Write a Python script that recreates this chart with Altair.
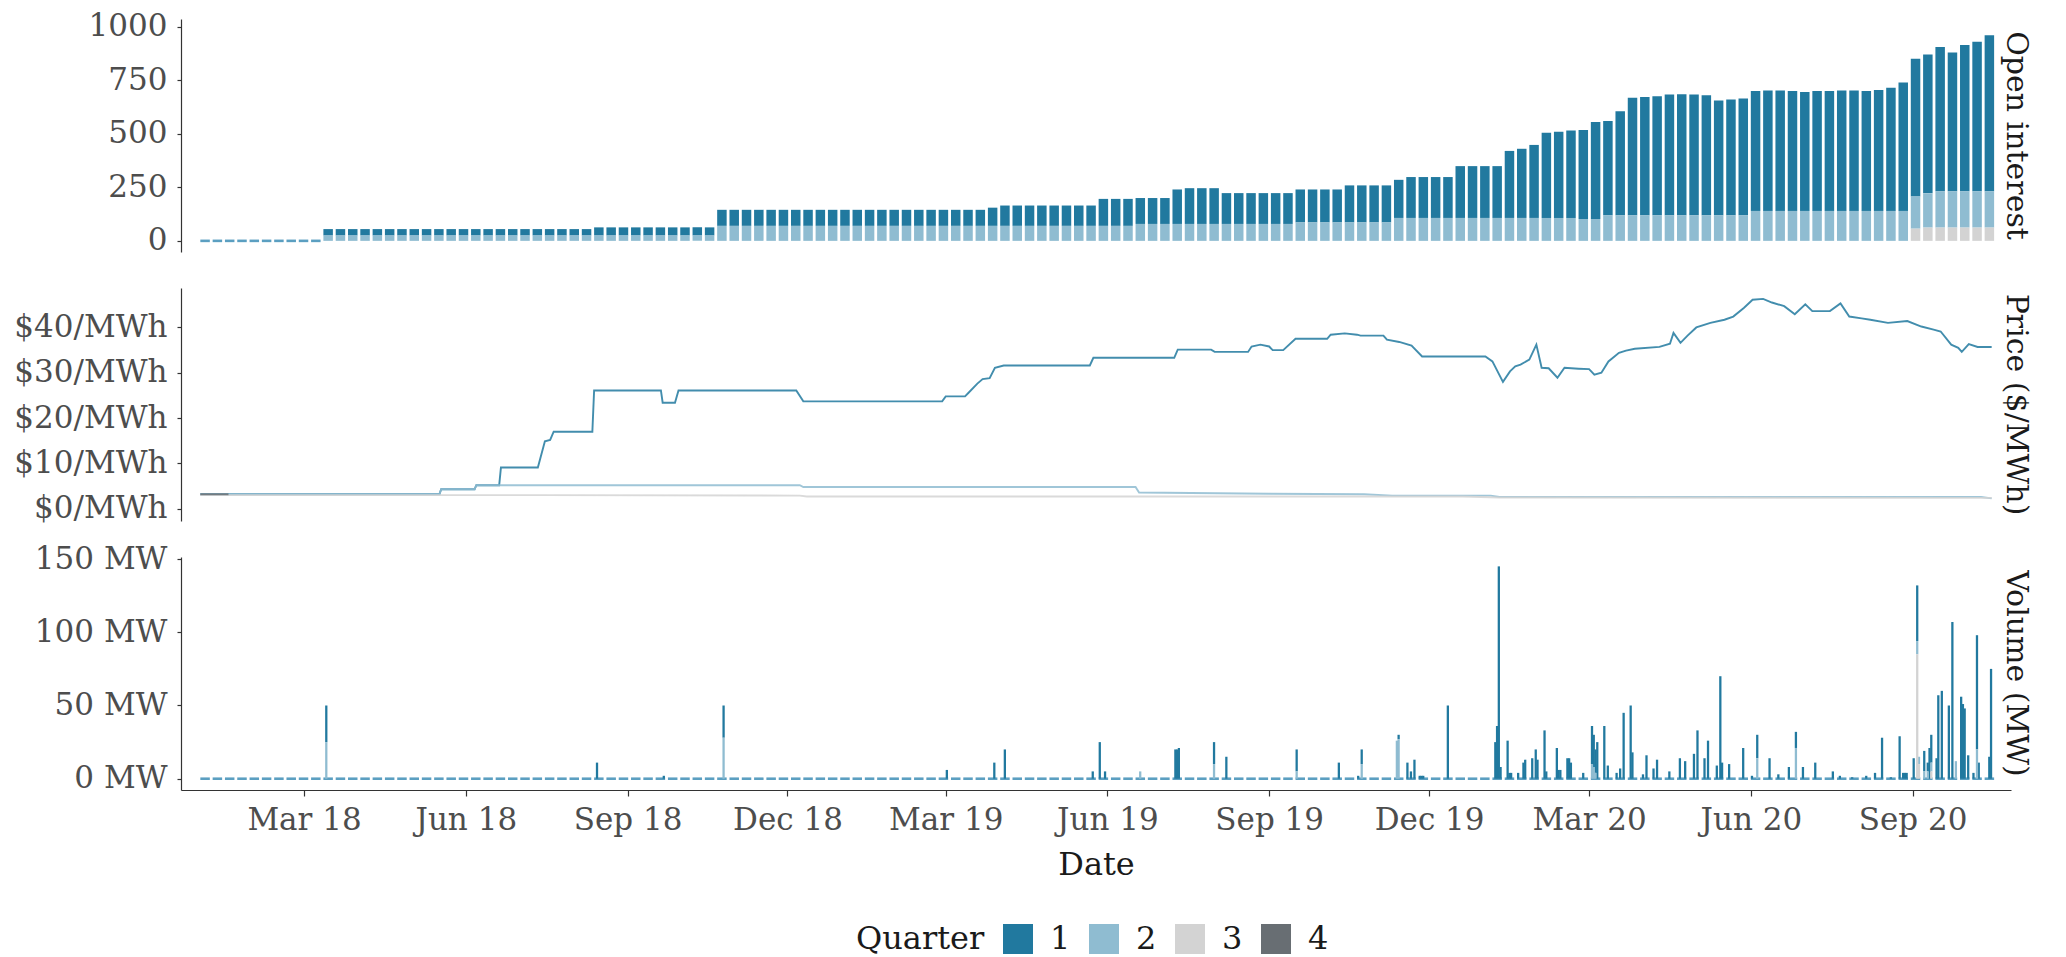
import altair as alt
import pandas as pd

FONT = "DejaVu Serif"
QUARTERS = ["1", "2", "3", "4"]
QUARTER_COLORS = ["#21799f", "#8fbcd1", "#d3d3d3", "#686e73"]
ZERO_COLOR = "#5b9fc1"
PANEL_W, PANEL_H = 1830, 233

panel_titles = ["Open interest", "Price ($/MWh)", "Volume (MW)"]

# ---------------- open interest, weekly (weeks starting Monday 2018-01-01) ----
first_week = "2018-01-01"
oi_q1 = ([0] * 10 + [30] * 22 + [38] * 10 + [75] * 22 + [85] + [95] * 8
         + [126] * 3 + [121] * 3 + [161] + [167] * 3 + [144] * 6 + [154] * 4
         + [173] * 4 + [178] + [191] * 4 + [242] * 4
         + [313, 323, 341, 398, 403, 408, 416, 453, 440, 485,
            548, 552, 555, 563, 565, 563, 560, 535, 540, 545,
            560, 562, 562, 560, 555, 560, 560, 562, 562, 560,
            565, 575, 600, 643, 648, 673, 648, 683, 698, 728])
oi_q2 = ([0] * 10 + [25] * 32 + [70] * 34 + [79] * 13 + [86] * 8 + [107] * 15
         + [102] * 2 + [120] * 12 + [140] * 13 + [150, 160, 170, 170, 170, 170, 170])
oi_q3 = [0] * 139 + [57, 62, 62, 62, 62, 62, 62]

# ---------------- traded volume (MW) ----------------
vol_q1_dates = ["2018-03-13", "2018-08-14", "2018-09-21", "2018-10-25", "2019-03-01",
                "2019-03-28", "2019-04-03", "2019-05-23", "2019-05-27", "2019-05-30",
                "2019-07-09", "2019-07-10", "2019-07-11", "2019-07-31", "2019-08-07",
                "2019-09-16", "2019-10-10", "2019-10-21", "2019-10-23", "2019-11-13",
                "2019-11-18", "2019-11-20", "2019-11-22", "2019-11-25", "2019-11-26",
                "2019-11-27", "2019-12-11", "2020-01-07", "2020-01-08", "2020-01-09",
                "2020-01-10", "2020-01-14", "2020-01-15", "2020-01-16", "2020-01-20",
                "2020-01-23", "2020-01-24", "2020-01-28", "2020-01-30", "2020-01-31",
                "2020-02-04", "2020-02-05", "2020-02-11", "2020-02-12", "2020-02-13",
                "2020-02-17", "2020-02-18", "2020-02-19", "2020-02-26", "2020-03-02",
                "2020-03-03", "2020-03-04", "2020-03-05", "2020-03-09", "2020-03-11",
                "2020-03-16", "2020-03-18", "2020-03-20", "2020-03-24", "2020-03-25",
                "2020-03-31", "2020-04-02", "2020-04-06", "2020-04-08", "2020-04-15",
                "2020-04-21", "2020-04-24", "2020-04-29", "2020-05-01", "2020-05-05",
                "2020-05-07", "2020-05-12", "2020-05-14", "2020-05-15", "2020-05-19",
                "2020-05-27", "2020-06-01", "2020-06-04", "2020-06-11", "2020-06-16",
                "2020-06-22", "2020-06-26", "2020-06-30", "2020-07-07", "2020-07-17",
                "2020-07-21", "2020-07-28", "2020-08-05", "2020-08-10", "2020-08-14",
                "2020-08-19", "2020-08-24", "2020-08-26", "2020-08-27", "2020-08-28",
                "2020-09-01", "2020-09-03", "2020-09-07", "2020-09-09", "2020-09-10",
                "2020-09-11", "2020-09-14", "2020-09-15", "2020-09-17", "2020-09-21",
                "2020-09-23", "2020-09-28", "2020-09-29", "2020-09-30", "2020-10-02",
                "2020-10-05", "2020-10-07", "2020-10-08", "2020-10-14", "2020-10-15"]
vol_q1 = [25, 11, 2, 22, 6,
          11, 20, 5, 25, 5,
          20, 20, 21, 15, 15,
          15, 11, 2, 10, 3,
          11, 5, 13, 2, 2,
          2, 50, 25, 36, 145,
          8, 26, 4, 4, 4,
          11, 13, 14, 20, 13,
          33, 5, 21, 6, 6,
          14, 14, 11, 4, 26,
          22, 16, 25, 36, 9,
          4, 7, 45, 50, 18,
          3, 16, 7, 13, 5,
          14, 12, 17, 33, 14,
          26, 9, 70, 11, 10,
          21, 2, 16, 14, 3,
          8, 11, 8, 11, 5,
          2, 1, 2, 4, 28,
          1, 29, 4, 4, 4,
          14, 38, 14, 6, 21,
          19, 14, 57, 60, 50,
          107, 56, 51, 48, 16,
          4, 78, 11, 15, 75]
vol_q2_dates = ["2018-03-13", "2018-10-25", "2019-06-19", "2019-07-31", "2019-09-16",
                "2019-10-23", "2019-11-12", "2019-11-13", "2020-03-02", "2020-03-03",
                "2020-03-04", "2020-06-04", "2020-06-26", "2020-09-03", "2020-09-04",
                "2020-09-07", "2020-09-09", "2020-09-11", "2020-09-25", "2020-10-07"]
vol_q2 = [25, 28, 5, 10, 5,
          10, 26, 27, 10, 8,
          4, 14, 21, 9, 5,
          5, 5, 6, 12, 20]
vol_q3_dates = ["2020-09-03", "2020-09-04", "2020-09-11"]
vol_q3 = [85, 10, 5]

# ---------------- prices ($/MWh) ----------------
price_q1_dates = ["2018-01-01", "2018-05-17", "2018-05-18", "2018-06-06", "2018-06-07",
                  "2018-06-20", "2018-06-21", "2018-07-12", "2018-07-16", "2018-07-19",
                  "2018-07-21", "2018-08-12", "2018-08-13", "2018-09-20", "2018-09-21",
                  "2018-09-28", "2018-09-30", "2018-12-06", "2018-12-10", "2019-02-27",
                  "2019-03-01", "2019-03-12", "2019-03-14", "2019-03-19", "2019-03-22",
                  "2019-03-26", "2019-03-29", "2019-04-03", "2019-05-22", "2019-05-24",
                  "2019-07-09", "2019-07-11", "2019-07-30", "2019-08-01", "2019-08-20",
                  "2019-08-22", "2019-08-27", "2019-09-01", "2019-09-03", "2019-09-09",
                  "2019-09-16", "2019-10-04", "2019-10-06", "2019-10-14", "2019-10-21",
                  "2019-10-23", "2019-11-05", "2019-11-07", "2019-11-14", "2019-11-21",
                  "2019-11-27", "2020-01-02", "2020-01-06", "2020-01-12", "2020-01-16",
                  "2020-01-19", "2020-01-22", "2020-01-27", "2020-01-31", "2020-02-03",
                  "2020-02-07", "2020-02-12", "2020-02-16", "2020-02-24", "2020-03-01",
                  "2020-03-04", "2020-03-08", "2020-03-12", "2020-03-18", "2020-03-22",
                  "2020-03-27", "2020-04-10", "2020-04-16", "2020-04-18", "2020-04-22",
                  "2020-04-26", "2020-05-01", "2020-05-09", "2020-05-17", "2020-05-22",
                  "2020-05-28", "2020-06-02", "2020-06-08", "2020-06-13", "2020-06-20",
                  "2020-06-26", "2020-07-02", "2020-07-06", "2020-07-16", "2020-07-22",
                  "2020-07-27", "2020-08-03", "2020-08-08", "2020-08-18", "2020-08-29",
                  "2020-09-06", "2020-09-13", "2020-09-17", "2020-09-23", "2020-09-27",
                  "2020-09-29", "2020-10-03", "2020-10-08", "2020-10-16"]
price_q1 = [3.2, 3.2, 4.3, 4.3, 5.2,
            5.2, 9.1, 9.1, 14.9, 15.2,
            17.0, 17.0, 26.1, 26.1, 23.4,
            23.4, 26.1, 26.1, 23.7, 23.7,
            24.8, 24.8, 25.6, 27.6, 28.6,
            28.8, 31.1, 31.6, 31.6, 33.3,
            33.3, 35.1, 35.1, 34.6, 34.6,
            35.8, 36.2, 35.8, 35.0, 35.0,
            37.5, 37.5, 38.4, 38.7, 38.4,
            38.2, 38.2, 37.3, 36.8, 36.0,
            33.6, 33.6, 32.5, 28.0, 30.3,
            31.4, 31.8, 32.9, 36.2, 31.1,
            31.0, 28.9, 31.1, 30.9, 30.8,
            29.6, 30.0, 32.5, 34.4, 34.9,
            35.3, 35.7, 36.4, 38.8, 36.6,
            38.2, 40.0, 41.0, 41.7, 42.4,
            44.3, 46.1, 46.3, 45.5, 44.7,
            42.9, 45.1, 43.6, 43.6, 45.3,
            42.4, 42.0, 41.7, 41.0, 41.4,
            40.2, 39.5, 39.1, 36.2, 35.5,
            34.6, 36.3, 35.7, 35.7]
price_q2_dates = ["2018-01-01", "2018-05-17", "2018-05-18", "2018-06-06", "2018-06-07",
                  "2018-12-08", "2018-12-10", "2019-06-17", "2019-06-19", "2019-09-01",
                  "2019-10-25", "2019-11-10", "2020-01-05", "2020-01-10", "2020-10-10",
                  "2020-10-16"]
price_q2 = [3.2, 3.2, 4.3, 4.3, 5.2,
            5.2, 4.8, 4.8, 3.6, 3.3,
            3.2, 2.9, 2.9, 2.6, 2.6,
            2.3]
price_q3_dates = ["2018-01-01", "2018-07-15", "2018-12-08", "2018-12-12", "2019-12-20",
                  "2020-01-10", "2020-10-16"]
price_q3 = [3.0, 3.0, 2.9, 2.7, 2.7, 2.5, 2.4]
price_q4_dates = ["2018-01-01", "2018-01-17"]
price_q4 = [3.2, 3.2]

# ---------------- axes ----------------
x_tick_dates = ["2018-03-01", "2018-06-01", "2018-09-01", "2018-12-01", "2019-03-01",
                "2019-06-01", "2019-09-01", "2019-12-01", "2020-03-01", "2020-06-01",
                "2020-09-01"]
x_domain_dates = ["2017-12-21", "2020-10-27"]
oi_ticks = [0, 250, 500, 750, 1000]
price_ticks = [0, 10, 20, 30, 40]
vol_ticks = [0, 50, 100, 150]
oi_domain = [-52, 1036]
price_domain = [-2.7, 48.7]
vol_domain = [-7.7, 151.4]


def iso(ts):
    return pd.Timestamp(ts).strftime("%Y-%m-%dT%H:%M:%SZ")


def dt(s):
    y, m, d = (int(v) for v in s.split("-"))
    return alt.DateTime(year=y, month=m, date=d, utc=True)


weeks = pd.date_range(first_week, periods=len(oi_q1), freq="7D")
oi_rows, zero_oi_rows, all_week_rows = [], [], []
for i, wk in enumerate(weeks):
    start, end = iso(wk), iso(wk + pd.Timedelta(days=5.4))
    all_week_rows.append({"week": start, "end": end, "zero": 0})
    vals = [oi_q1[i], oi_q2[i], oi_q3[i]]
    if sum(vals) == 0:
        zero_oi_rows.append({"week": start, "end": end, "zero": 0})
    for q, v in zip(QUARTERS, vals):
        if v > 0:
            oi_rows.append({"week": start, "end": end, "quarter": q, "value": v})
oi_df = pd.DataFrame(oi_rows)
zero_oi_df = pd.DataFrame(zero_oi_rows)
all_weeks_df = pd.DataFrame(all_week_rows)

vol_rows = []
for q, ds, vs in [("1", vol_q1_dates, vol_q1), ("2", vol_q2_dates, vol_q2), ("3", vol_q3_dates, vol_q3)]:
    for d, v in zip(ds, vs):
        t = pd.Timestamp(d)
        vol_rows.append({"week": iso(t), "end": iso(t + pd.Timedelta(days=1.3)), "quarter": q, "value": v})
vol_df = pd.DataFrame(vol_rows)

price_rows = []
for q, ds, vs in [("1", price_q1_dates, price_q1), ("2", price_q2_dates, price_q2),
                  ("3", price_q3_dates, price_q3), ("4", price_q4_dates, price_q4)]:
    for d, v in zip(ds, vs):
        price_rows.append({"date": iso(d), "quarter": q, "price": v})
price_df = pd.DataFrame(price_rows)

xscale = alt.Scale(type="utc", domain=[dt(x_domain_dates[0]), dt(x_domain_dates[1])])
color_scale = alt.Scale(domain=QUARTERS, range=QUARTER_COLORS)

legend = alt.Legend(title="Quarter", orient="none", legendX=675, legendY=904,
                    direction="horizontal", columns=4, titleOrient="left",
                    symbolType="square", symbolSize=900, symbolStrokeWidth=0,
                    symbolOpacity=1, labelOffset=16, columnPadding=17, titlePadding=17)


def yaxis(values, expr=None, fmt=None):
    kw = dict(values=values, title=None, minExtent=163, maxExtent=163,
              labelPadding=10, tickSize=4)
    if expr:
        kw["labelExpr"] = expr
    if fmt:
        kw["format"] = fmt
    return alt.Axis(**kw)


def side_label(i):
    return alt.Chart(pd.DataFrame({"label": [panel_titles[i]]})).mark_text(
        angle=90, font=FONT, fontSize=30, color="#1a1a1a", align="center", baseline="middle"
    ).encode(x=alt.value(PANEL_W + 5), y=alt.value(PANEL_H / 2), text="label:N")


x_none = alt.X("week:T", scale=xscale, axis=None, title=None)
stack_kw = dict(stack="value", groupby=["week"], as_=["y0", "y1"],
                sort=[alt.SortField("quarter", order="descending")])

# Panel 1: open interest
ax_oi = yaxis(oi_ticks, fmt="d")
oi_dash = alt.Chart(zero_oi_df).mark_rule(color=ZERO_COLOR, strokeWidth=2.6).encode(
    x=x_none, x2="end:T",
    y=alt.Y("zero:Q", scale=alt.Scale(domain=oi_domain, nice=False, zero=False), axis=ax_oi),
)
oi_bars = alt.Chart(oi_df).transform_stack(**stack_kw).mark_rect().encode(
    x=x_none, x2="end:T",
    y=alt.Y("y0:Q", scale=alt.Scale(domain=oi_domain, nice=False, zero=False), axis=ax_oi),
    y2="y1:Q",
    color=alt.Color("quarter:N", scale=color_scale, legend=legend),
)
p1 = alt.layer(oi_dash, oi_bars, side_label(0)).properties(width=PANEL_W, height=PANEL_H)

# Panel 2: prices
p2_lines = alt.Chart(price_df).mark_line(strokeWidth=1.9, opacity=0.85).encode(
    x=alt.X("date:T", scale=xscale, axis=None, title=None),
    y=alt.Y("price:Q", scale=alt.Scale(domain=price_domain, nice=False, zero=False),
            axis=yaxis(price_ticks, "'$' + datum.value + '/MWh'")),
    stroke=alt.Stroke("quarter:N", scale=color_scale, legend=None),
    order=alt.Order("date:T"),
)
p2 = alt.layer(p2_lines, side_label(1)).properties(width=PANEL_W, height=PANEL_H)

# Panel 3: volume
x_axis = alt.Axis(values=[dt(d) for d in x_tick_dates], format="%b %y", title="Date",
                  tickSize=6, labelPadding=9, titlePadding=14, labelFlush=False,
                  labelOverlap=False)
ax_vol = yaxis(vol_ticks, "datum.value + ' MW'")
vol_dash = alt.Chart(all_weeks_df).mark_rule(color=ZERO_COLOR, strokeWidth=2.6).encode(
    x=alt.X("week:T", scale=xscale, axis=x_axis), x2="end:T",
    y=alt.Y("zero:Q", scale=alt.Scale(domain=vol_domain, nice=False, zero=False), axis=ax_vol),
)
vol_bars = alt.Chart(vol_df).transform_stack(**stack_kw).mark_rect().encode(
    x=alt.X("week:T", scale=xscale, axis=x_axis), x2="end:T",
    y=alt.Y("y0:Q", scale=alt.Scale(domain=vol_domain, nice=False, zero=False), axis=ax_vol),
    y2="y1:Q",
    color=alt.Color("quarter:N", scale=color_scale, legend=legend),
)
p3 = alt.layer(vol_dash, vol_bars, side_label(2)).properties(width=PANEL_W, height=PANEL_H)

chart = (
    alt.vconcat(p1, p2, p3, spacing=36, bounds="flush")
    .resolve_scale(x="independent", y="independent", color="shared", stroke="independent")
    .resolve_legend(color="shared")
    .properties(padding={"left": 5, "top": 2, "right": 5, "bottom": 4})
    .configure_view(stroke=None)
    .configure_axis(labelFont=FONT, titleFont=FONT, labelFontSize=31, titleFontSize=32,
                    titleFontWeight="normal", labelColor="#4d4d4d", titleColor="#1a1a1a",
                    domainColor="#333333", tickColor="#333333", domainWidth=1.2,
                    tickWidth=1.2, grid=False)
    .configure_legend(labelFont=FONT, titleFont=FONT, labelFontSize=32, titleFontSize=32,
                      titleFontWeight="normal", labelColor="#1a1a1a", titleColor="#1a1a1a")
)

chart.save("out.html", embed_options={"renderer": "svg", "actions": False})
